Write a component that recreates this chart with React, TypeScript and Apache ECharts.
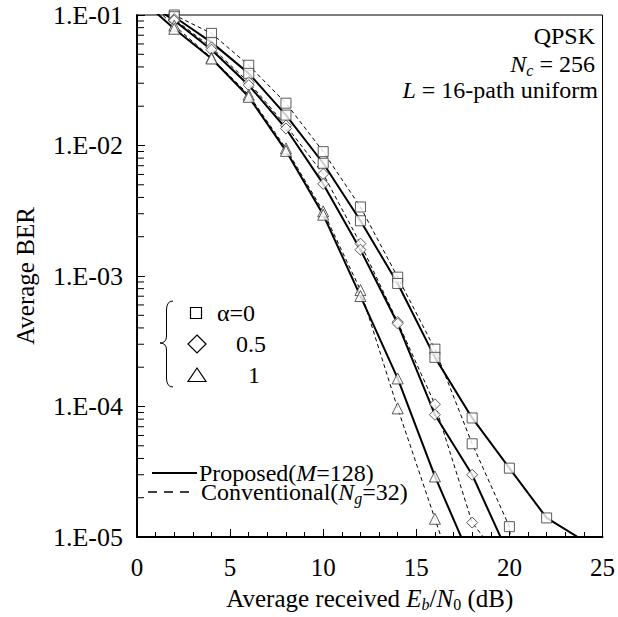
import React, { useEffect, useRef } from "react";
import * as echarts from "echarts";

// ---------- data ----------
const snr = [0, 2, 4, 6, 8, 10, 12, 14, 16, 18, 20, 22, 24];

// alpha = 0 (squares)
const sqConv = [0.15, 0.1, 0.0723, 0.0412, 0.0211, 0.00897, 0.00338, 0.00098, 0.000275, 5.18e-5, 1.2e-5, 1e-8];
const sqProp = [0.14, 0.097, 0.0617, 0.0357, 0.0171, 0.00731, 0.00265, 0.000877, 0.000238, 8.17e-5, 3.37e-5, 1.4e-5, 9.35e-6];
// alpha = 0.5 (diamonds)
const diaConv = [0.15, 0.093, 0.0565, 0.0305, 0.0142, 0.00605, 0.00177, 0.000444, 1.04e-4, 1.29e-5, 5.5e-6];
const diaProp = [0.14, 0.0908, 0.0542, 0.029, 0.0135, 0.00508, 0.00159, 0.000432, 8.65e-5, 3.0e-5, 7.1e-6];
// alpha = 1 (triangles)
const triConv = [0.15, 0.083, 0.047, 0.0245, 0.0095, 0.00313, 0.00078, 9.68e-5, 1.38e-5, 2e-6];
const triProp = [0.14, 0.0785, 0.0464, 0.0236, 0.0091, 0.00295, 0.000702, 1.64e-4, 2.91e-5, 6.4e-6];

const xTicks = [0, 5, 10, 15, 20, 25];
const yDecades = [1e-5, 1e-4, 1e-3, 1e-2, 1e-1];
const yTickLabels = ["1.E-05", "1.E-04", "1.E-03", "1.E-02", "1.E-01"];
const minorMultipliers = [2, 3, 4, 5, 6, 7, 8, 9];

const legendAlpha = ["α=0", "0.5", "1"];

const FONT = "Liberation Serif";

function zip(vals: number[]) {
  return vals.map((v, i) => [snr[i], v]);
}

export default function App() {
  const ref = useRef<HTMLDivElement>(null);

  useEffect(() => {
    if (!ref.current) return;
    const chart = echarts.init(ref.current, undefined, { renderer: "svg" });

    const minorVals: number[][] = [];
    yDecades.slice(0, 4).forEach((d) => {
      minorMultipliers.forEach((m) => minorVals.push([0, d * m]));
    });

    const lineSeries = (name: string, vals: number[], dashed: boolean) => ({
      name,
      type: "line",
      data: zip(vals),
      showSymbol: false,
      symbol: "none",
      clip: true,
      z: dashed ? 2 : 3,
      lineStyle: dashed
        ? { color: "#000", width: 1, type: [4, 3] }
        : { color: "#000", width: 2, type: "solid" },
      silent: true,
    });

    const markerSeries = (vals: number[], symbol: string, size: number) => ({
      type: "scatter",
      data: zip(vals),
      symbol,
      symbolSize: size,
      clip: true,
      z: 5,
      itemStyle: { color: "#fff", borderColor: "#333", borderWidth: 1 },
      silent: true,
    });

    const FS = 24;
    const textBase = { fontFamily: FONT, fontSize: FS, fill: "#000" };
    const makeRich = (fs: number) => ({
      i: { fontFamily: FONT, fontSize: fs, fontStyle: "italic", fill: "#000", color: "#000" },
      n: { fontFamily: FONT, fontSize: fs, fill: "#000", color: "#000" },
      sub: { fontFamily: FONT, fontSize: Math.round(fs * 0.65), fontStyle: "italic", fill: "#000", color: "#000", verticalAlign: "bottom", lineHeight: 28 },
      subn: { fontFamily: FONT, fontSize: Math.round(fs * 0.65), fill: "#000", color: "#000", verticalAlign: "bottom", lineHeight: 28 },
    });
    const richSub = makeRich(FS);

    const option: any = {
      animation: false,
      textStyle: { fontFamily: FONT },
      grid: {
        left: 137,
        right: 12,
        top: 15,
        bottom: 78,
        show: true,
        borderColor: "#000",
        borderWidth: 1,
        backgroundColor: "transparent",
      },
      xAxis: {
        type: "value",
        min: 0,
        max: 25,
        interval: 5,
        name: "Average received {i|E}{sub|b}/{i|N}{subn|0} (dB)",
        nameLocation: "middle",
        nameGap: 47,
        nameTextStyle: { fontFamily: FONT, fontSize: 25, color: "#000", rich: makeRich(25) },
        axisLine: { show: true, lineStyle: { color: "#000", width: 2 } },
        axisTick: { show: true, inside: true, length: 8, lineStyle: { color: "#000", width: 1 } },
        minorTick: { show: true, splitNumber: 5, length: 5, lineStyle: { color: "#000", width: 1 } },
        splitLine: { show: false },
        axisLabel: {
          margin: 18,
          fontFamily: FONT,
          fontSize: 25,
          color: "#000",
          formatter: (v: number) => (xTicks.includes(v) ? String(v) : ""),
        },
      },
      yAxis: {
        type: "log",
        logBase: 10,
        min: yDecades[0],
        max: yDecades[yDecades.length - 1],
        name: "Average BER",
        nameLocation: "middle",
        nameGap: 99,
        nameTextStyle: { fontFamily: FONT, fontSize: 25, color: "#000" },
        axisLine: { show: true, lineStyle: { color: "#000", width: 2 } },
        axisTick: { show: true, inside: true, length: 8, lineStyle: { color: "#000", width: 1 } },
        splitLine: { show: false },
        axisLabel: {
          margin: 14,
          fontFamily: FONT,
          fontSize: 26,
          color: "#000",
          formatter: (v: number) => {
            const idx = yDecades.findIndex((d) => Math.abs(Math.log10(d) - Math.log10(v)) < 1e-6);
            return idx >= 0 ? yTickLabels[idx] : "";
          },
        },
      },
      series: [
        {
          type: "custom",
          coordinateSystem: "cartesian2d",
          data: minorVals,
          silent: true,
          z: 4,
          clip: false,
          renderItem: (_p: any, api: any) => {
            const pt = api.coord([api.value(0), api.value(1)]);
            return {
              type: "line",
              shape: { x1: pt[0] + 1, y1: pt[1], x2: pt[0] + 7, y2: pt[1] },
              style: { stroke: "#000", lineWidth: 1 },
            };
          },
        },
        lineSeries("sqConv", sqConv, true),
        lineSeries("diaConv", diaConv, true),
        lineSeries("triConv", triConv, true),
        lineSeries("sqProp", sqProp, false),
        lineSeries("diaProp", diaProp, false),
        lineSeries("triProp", triProp, false),
        markerSeries(sqConv, "rect", 10),
        markerSeries(sqProp, "rect", 10),
        markerSeries(diaConv, "diamond", 11),
        markerSeries(diaProp, "diamond", 11),
        markerSeries(triConv, "triangle", 11),
        markerSeries(triProp, "triangle", 11),
      ],
      graphic: [
        // annotation
        {
          type: "text",
          x: 595,
          y: 36,
          z: 10,
          style: { ...textBase, text: "QPSK", align: "right", verticalAlign: "middle" },
        },
        {
          type: "text",
          x: 595,
          y: 64,
          z: 10,
          style: {
            ...textBase,
            text: "{i|N}{sub|c}{n| = 256}",
            rich: richSub,
            align: "right",
            verticalAlign: "middle",
          },
        },
        {
          type: "text",
          x: 598,
          y: 90,
          z: 10,
          style: {
            ...textBase,
            text: "{i|L}{n| = 16-path uniform}",
            rich: richSub,
            align: "right",
            verticalAlign: "middle",
          },
        },
        // brace
        {
          type: "bezierCurve",
          z: 10,
          shape: { x1: 173, y1: 301, cpx1: 166.5, cpy1: 301, x2: 166.5, y2: 310 },
          style: { stroke: "#000", lineWidth: 1, fill: "none" },
        },
        {
          type: "line",
          z: 10,
          shape: { x1: 166.5, y1: 310, x2: 166.5, y2: 336 },
          style: { stroke: "#000", lineWidth: 1 },
        },
        {
          type: "bezierCurve",
          z: 10,
          shape: { x1: 166.5, y1: 336, cpx1: 166.5, cpy1: 343, x2: 160, y2: 343 },
          style: { stroke: "#000", lineWidth: 1, fill: "none" },
        },
        {
          type: "bezierCurve",
          z: 10,
          shape: { x1: 160, y1: 343, cpx1: 166.5, cpy1: 343, x2: 166.5, y2: 350 },
          style: { stroke: "#000", lineWidth: 1, fill: "none" },
        },
        {
          type: "line",
          z: 10,
          shape: { x1: 166.5, y1: 350, x2: 166.5, y2: 378 },
          style: { stroke: "#000", lineWidth: 1 },
        },
        {
          type: "bezierCurve",
          z: 10,
          shape: { x1: 166.5, y1: 378, cpx1: 166.5, cpy1: 387, x2: 173, y2: 387 },
          style: { stroke: "#000", lineWidth: 1, fill: "none" },
        },
        // legend markers
        {
          type: "rect",
          z: 10,
          shape: { x: 190.5, y: 307.5, width: 11, height: 11 },
          style: { fill: "#fff", stroke: "#000", lineWidth: 1.2 },
        },
        {
          type: "polygon",
          z: 10,
          shape: { points: [[197, 335], [206, 344], [197, 353], [188, 344]] },
          style: { fill: "#fff", stroke: "#000", lineWidth: 1.2 },
        },
        {
          type: "polygon",
          z: 10,
          shape: { points: [[197, 368], [206, 381.5], [188, 381.5]] },
          style: { fill: "#fff", stroke: "#000", lineWidth: 1.2 },
        },
        {
          type: "text",
          x: 217,
          y: 313,
          z: 10,
          style: { ...textBase, text: legendAlpha[0], align: "left", verticalAlign: "middle" },
        },
        {
          type: "text",
          x: 236,
          y: 344,
          z: 10,
          style: { ...textBase, text: legendAlpha[1], align: "left", verticalAlign: "middle" },
        },
        {
          type: "text",
          x: 248,
          y: 375,
          z: 10,
          style: { ...textBase, text: legendAlpha[2], align: "left", verticalAlign: "middle" },
        },
        // line legend
        {
          type: "line",
          z: 10,
          shape: { x1: 152, y1: 473, x2: 197, y2: 473 },
          style: { stroke: "#000", lineWidth: 2 },
        },
        {
          type: "text",
          x: 199,
          y: 473,
          z: 10,
          style: {
            ...textBase,
            text: "{n|Proposed(}{i|M}{n|=128)}",
            rich: richSub,
            align: "left",
            verticalAlign: "middle",
          },
        },
        {
          type: "line",
          z: 10,
          shape: { x1: 148, y1: 492, x2: 193, y2: 492 },
          style: { stroke: "#000", lineWidth: 1.5, lineDash: [9, 7] },
        },
        {
          type: "text",
          x: 201,
          y: 492,
          z: 10,
          style: {
            ...textBase,
            text: "{n|Conventional(}{i|N}{sub|g}{n|=32)}",
            rich: richSub,
            align: "left",
            verticalAlign: "middle",
          },
        },
      ],
    };

    chart.setOption(option);
    return () => chart.dispose();
  }, []);

  return (
    <div
      ref={ref}
      style={{ position: "fixed", left: 0, top: 0, width: 618, height: 617, background: "#fff" }}
    />
  );
}
